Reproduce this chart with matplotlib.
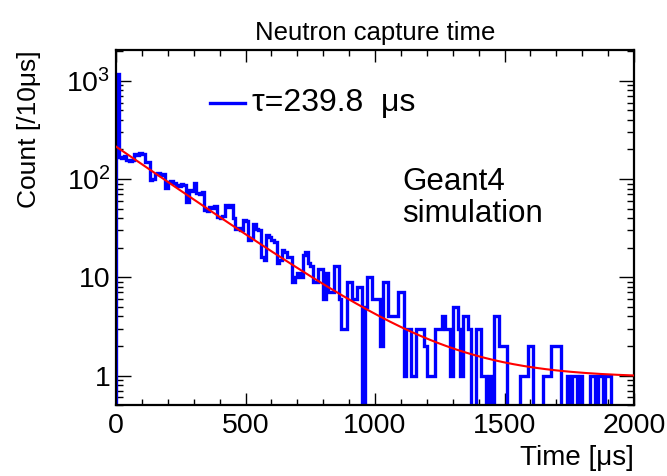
import numpy as np
import matplotlib
matplotlib.use("Agg")
import matplotlib.pyplot as plt
from matplotlib.ticker import FixedLocator, FuncFormatter, MultipleLocator

plt.rcParams['font.family'] = ['Liberation Sans', 'DejaVu Sans']
plt.rcParams['mathtext.fontset'] = 'custom'
plt.rcParams['mathtext.rm'] = 'Liberation Sans'
plt.rcParams['mathtext.it'] = 'Liberation Sans'

# histogram: 10 us bins from 0 to 2000 us
bin_edges = np.arange(0, 2001, 10)
counts = [
    1180, 168, 165, 170, 155, 152, 158, 180, 176, 182,
    178, 150, 148, 98, 100, 112, 115, 110, 113, 81,
    93, 95, 92, 87, 85, 88, 86, 58, 77, 76,
    91, 72, 70, 73, 48, 47, 52, 51, 53, 41,
    40, 42, 54, 52, 55, 40, 31, 32, 30, 38,
    37, 24, 25, 35, 31, 30, 16, 15, 27, 26,
    24, 23, 14, 15, 19, 18, 16, 16, 9, 10,
    11, 10, 17, 18, 14, 13, 9, 9, 12, 12,
    6, 11, 7, 7, 13, 13, 6, 3, 3, 9,
    9, 6, 6, 8, 8, 0, 5, 10, 10, 6,
    6, 6, 2, 9, 9, 4, 4, 4, 4, 7,
    7, 1, 3, 3, 1, 1, 3, 3, 3, 2,
    1, 1, 1, 3, 3, 3, 4, 3, 3, 1,
    5, 5, 3, 1, 4, 4, 3, 0, 0, 3,
    3, 1, 1, 0, 1, 0, 4, 4, 2, 2,
    2, 0, 0, 0, 0, 0, 1, 1, 1, 2,
    2, 0, 0, 0, 0, 1, 1, 1, 2, 2,
    2, 2, 0, 0, 1, 0, 1, 1, 0, 1,
    0, 0, 0, 1, 1, 0, 1, 1, 0, 1,
    1, 0, 0, 0, 0, 0, 0, 0, 0, 0,
]

# exponential + constant fit parameters
fit_tau = 239.8
fit_amp = 213.0
fit_const = 0.95

y_min, y_max = 0.5, 2060

fig = plt.figure(figsize=(6.67, 4.76), dpi=100)
ax = fig.add_axes([0.174, 0.149, 0.7765, 0.746])

vals = np.maximum(np.array(counts, dtype=float), 0.2)
ax.stairs(vals, bin_edges, baseline=0.2, color='#0000ff', linewidth=2.4, zorder=2)

t = np.linspace(0, 2000, 400)
ax.plot(t, fit_amp * np.exp(-t / fit_tau) + fit_const, color='#ff0000', linewidth=1.5, zorder=3)

ax.set_yscale('log')
ax.set_xlim(0, 2000)
ax.set_ylim(y_min, y_max)

ax.xaxis.set_major_locator(MultipleLocator(500))
ax.xaxis.set_minor_locator(MultipleLocator(100))
ax.yaxis.set_major_locator(FixedLocator([1, 10, 100, 1000]))
ax.yaxis.set_minor_locator(FixedLocator([m * 10.0 ** e for e in range(-1, 4) for m in range(2, 10)]))


def ylab(v, pos):
    if v >= 100:
        return r'$10^{%d}$' % int(round(np.log10(v)))
    return '%d' % v


ax.yaxis.set_major_formatter(FuncFormatter(ylab))
ax.yaxis.set_minor_formatter(FuncFormatter(lambda v, p: ''))

ax.tick_params(which='both', direction='in', top=True, right=True, labelsize=20.5, width=1.0)
ax.tick_params(axis='x', which='major', length=8.5, pad=6)
ax.tick_params(axis='x', which='minor', length=4)
ax.tick_params(axis='y', which='major', length=10.5, pad=4)
ax.tick_params(axis='y', which='minor', length=5)
for s in ax.spines.values():
    s.set_linewidth(1.6)

ax.set_title('Neutron capture time', fontsize=18.5, pad=7)
ax.set_xlabel('Time [μs]', fontsize=20, loc='right', labelpad=4)
ax.set_ylabel('Count [/10μs]', fontsize=19, loc='top', labelpad=18)

ax.plot([0.181, 0.249], [0.851, 0.851], transform=ax.transAxes, color='#0000ff', linewidth=2.4)
ax.text(0.262, 0.851, 'τ=239.8  μs', transform=ax.transAxes, fontsize=23, va='center', ha='left')
ax.text(0.552, 0.67, 'Geant4\nsimulation', transform=ax.transAxes, fontsize=22.5, va='top', ha='left',
        linespacing=1.1)

fig.savefig('out.png', dpi=100)
